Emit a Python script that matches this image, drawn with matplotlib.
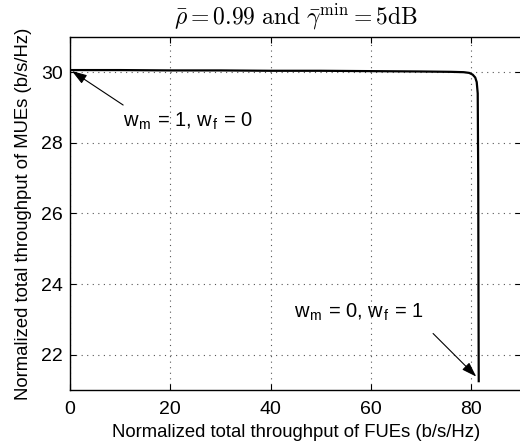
import matplotlib
matplotlib.use("Agg")
import matplotlib.pyplot as plt

plt.rcParams['font.family'] = ['Liberation Sans', 'DejaVu Sans']
plt.rcParams['mathtext.fontset'] = 'cm'

# trade-off curve
fue_tp = [0.0, 10.0, 20.0, 30.0, 40.0, 50.0, 60.0, 70.0, 76.0, 78.5, 79.6, 80.3, 80.8, 81.1, 81.3, 81.4, 81.45, 81.5]
mue_tp = [30.06, 30.06, 30.05, 30.05, 30.04, 30.04, 30.03, 30.02, 30.01, 30.0, 29.98, 29.93, 29.85, 29.72, 29.4, 27.0, 24.0, 21.25]

xticks = [0, 20, 40, 60, 80]
yticks = [22, 24, 26, 28, 30]

fig = plt.figure(figsize=(5.2, 4.47), dpi=100)
ax = fig.add_axes([0.1346, 0.1275, 0.868, 0.79])

ax.plot(fue_tp, mue_tp, color='black', linewidth=1.6)

ax.set_xlim(0, 90)
ax.set_ylim(21, 31)
ax.set_xticks(xticks)
ax.set_yticks(yticks)
ax.tick_params(direction='in', labelsize=14, length=4, top=True, right=True)
ax.tick_params(axis='x', pad=8)
ax.tick_params(axis='y', pad=5)
ax.grid(True, linestyle=(0, (1, 4)), color='#555555', linewidth=0.8)

ax.set_xlabel('Normalized total throughput of FUEs (b/s/Hz)', fontsize=13.3, labelpad=4)
ax.set_ylabel('Normalized total throughput of MUEs (b/s/Hz)', fontsize=13.3)
ax.yaxis.set_label_coords(-0.085, 0.5)
ax.set_title(r'$\bar{\rho}=0.99\ \mathrm{and}\ \bar{\gamma}^{\mathrm{min}}=5\mathrm{dB}$', fontsize=17, pad=9)

arrow = dict(arrowstyle='-|>,head_length=0.9,head_width=0.3', color='black', lw=0.8,
             shrinkA=0, shrinkB=0)
ax.annotate('', xy=(0.4, 30.03), xytext=(10.6, 29.07), arrowprops=arrow)
ax.text(10.6, 28.62, r'w$_\mathregular{m}$ = 1, w$_\mathregular{f}$ = 0', fontsize=14.5, va='center')
ax.annotate('', xy=(81.0, 21.38), xytext=(72.4, 22.6), arrowprops=arrow)
ax.text(44.6, 23.2, r'w$_\mathregular{m}$ = 0, w$_\mathregular{f}$ = 1', fontsize=14.5, va='center')

for s in ax.spines.values():
    s.set_linewidth(1.0)

fig.savefig('out.png', dpi=100)
